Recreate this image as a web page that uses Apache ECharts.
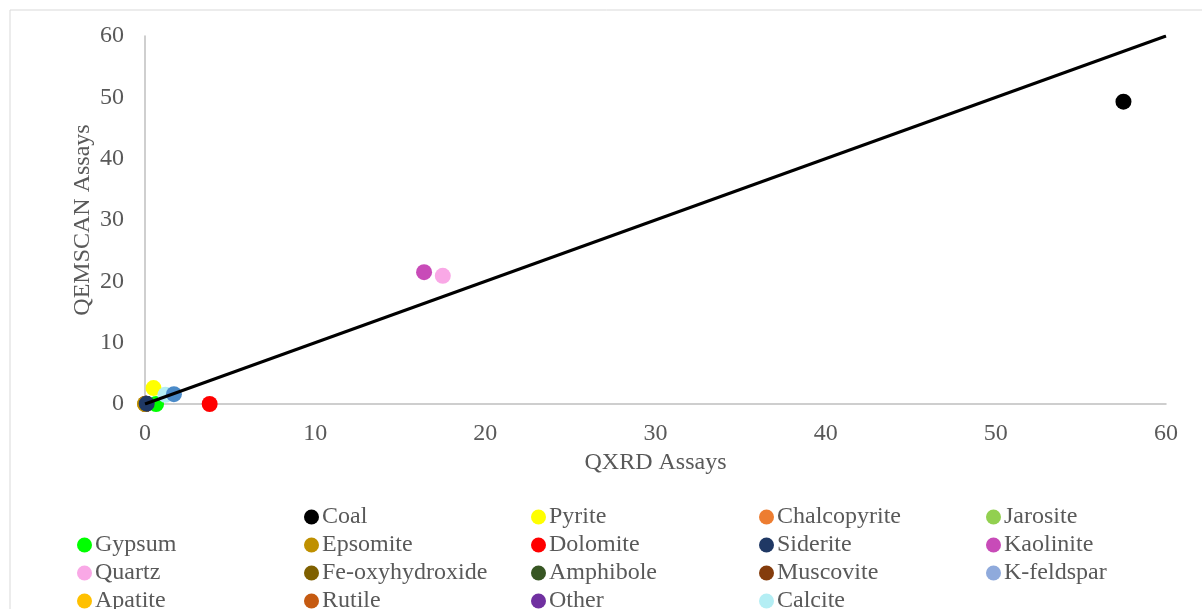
<!DOCTYPE html>
<html>
<head>
<meta charset="utf-8">
<script src="https://cdn.jsdelivr.net/npm/echarts@6/dist/echarts.min.js"></script>
<style>
  html, body { margin: 0; padding: 0; background: #fff; }
  #main { width: 1202px; height: 609px; }
</style>
</head>
<body>
<div id="main"></div>
<script>
var chartDom = document.getElementById('main');
var myChart = echarts.init(chartDom);

// minerals: [QXRD, QEMSCAN] assays (wt%)
const minerals = ['Coal', 'Pyrite', 'Chalcopyrite', 'Jarosite', 'Gypsum', 'Epsomite', 'Dolomite', 'Siderite', 'Kaolinite',
  'Quartz', 'Fe-oxyhydroxide', 'Amphibole', 'Muscovite', 'K-feldspar', 'Apatite', 'Rutile', 'Other', 'Calcite'];
const qxrd = [57.5, 0.5, 0.02, 0.05, 0.65, 0.0, 3.8, 0.1, 16.4, 17.5, 0.05, 0.03, 0.05, 1.7, 0.02, 0.05, 0.05, 1.2];
const qemscan = [49.3, 2.6, 0.02, 0.03, 0.0, 0.0, 0.0, 0.05, 21.5, 20.9, 0.03, 0.02, 0.03, 1.6, 0.02, 0.03, 0.03, 1.5];
const colors = ['#000000', '#ffff00', '#ed7d31', '#92d050', '#00ff00', '#bf9000', '#ff0000', '#1f3864', '#c84bb8',
  '#f9a8e6', '#7f6000', '#375623', '#843c0c', '#8faadc', '#ffc000', '#c55a11', '#7030a0', '#b4eef4'];
// colour actually seen on the K-feldspar marker in the plot
const pointColorOverride = { 'K-feldspar': '#4a8ac8' };

// 1:1 reference line
const lineX = [0, 60];
const lineY = [0, 60];

// drawing order (later on top)
const drawOrder = ['Chalcopyrite', 'Jarosite', 'Fe-oxyhydroxide', 'Amphibole', 'Muscovite', 'Apatite', 'Rutile', 'Other',
  'Epsomite', 'Gypsum', 'Siderite', 'Pyrite', 'Calcite', 'K-feldspar', 'Dolomite', 'Kaolinite', 'Quartz', 'Coal'];

// legend grid (row, col) as laid out in the reference
const legendRows = [
  [null, 'Coal', 'Pyrite', 'Chalcopyrite', 'Jarosite'],
  ['Gypsum', 'Epsomite', 'Dolomite', 'Siderite', 'Kaolinite'],
  ['Quartz', 'Fe-oxyhydroxide', 'Amphibole', 'Muscovite', 'K-feldspar'],
  ['Apatite', 'Rutile', 'Other', 'Calcite', null]
];
const colLeft = [77, 304, 531, 759, 986];
const rowTop = [505, 533, 561, 589];

const font = '"Liberation Serif", "Times New Roman", serif';
const textColor = '#595959';
const fs = 24;

const scatterSeries = drawOrder.map(function (name) {
  const i = minerals.indexOf(name);
  return {
    name: name,
    type: 'scatter',
    symbolSize: 16,
    data: [[qxrd[i], qemscan[i]]],
    itemStyle: { color: pointColorOverride[name] || colors[i], opacity: 1 },
    z: 3
  };
});

const legends = [];
legendRows.forEach(function (row, r) {
  row.forEach(function (n, c) {
    if (!n) return;
    legends.push({
      left: colLeft[c],
      top: rowTop[r],
      padding: 0,
      itemWidth: 15,
      itemHeight: 15,
      selectedMode: false,
      icon: 'circle',
      textStyle: { fontFamily: font, fontSize: fs, color: textColor, lineHeight: 24, padding: [0, 0, 0, -2] },
      data: [{ name: n, itemStyle: { color: colors[minerals.indexOf(n)] } }]
    });
  });
});

var option = {
  animation: false,
  backgroundColor: '#ffffff',
  graphic: [{
    type: 'rect',
    shape: { x: 10, y: 10, width: 1200, height: 620 },
    style: { fill: 'none', stroke: '#d9d9d9', lineWidth: 1 },
    silent: true
  }],
  legend: legends,
  grid: { left: 145, right: 36, top: 36, bottom: 205, containLabel: false },
  xAxis: {
    type: 'value',
    min: 0, max: 60, interval: 10,
    name: 'QXRD Assays',
    nameLocation: 'middle',
    nameGap: 47,
    nameMoveOverlap: false,
    nameTextStyle: { fontFamily: font, fontSize: fs, color: textColor },
    axisLine: { show: true, onZero: false, lineStyle: { color: '#bfbfbf', width: 1.5 } },
    axisTick: { show: false },
    splitLine: { show: false },
    axisLabel: { fontFamily: font, fontSize: fs, color: textColor, margin: 18 }
  },
  yAxis: {
    type: 'value',
    min: 0, max: 60, interval: 10,
    name: 'QEMSCAN Assays',
    nameLocation: 'middle',
    nameGap: 50,
    nameMoveOverlap: false,
    nameTextStyle: { fontFamily: font, fontSize: fs, color: textColor },
    axisLine: { show: true, onZero: false, lineStyle: { color: '#bfbfbf', width: 1.5 } },
    axisTick: { show: false },
    splitLine: { show: false },
    axisLabel: { fontFamily: font, fontSize: fs, color: textColor, margin: 21 }
  },
  series: scatterSeries.concat([{
    name: '1:1',
    type: 'line',
    data: lineX.map(function (x, i) { return [x, lineY[i]]; }),
    symbol: 'none',
    lineStyle: { color: '#000000', width: 3 },
    z: 5,
    silent: true
  }])
};

option && myChart.setOption(option);
</script>
</body>
</html>
